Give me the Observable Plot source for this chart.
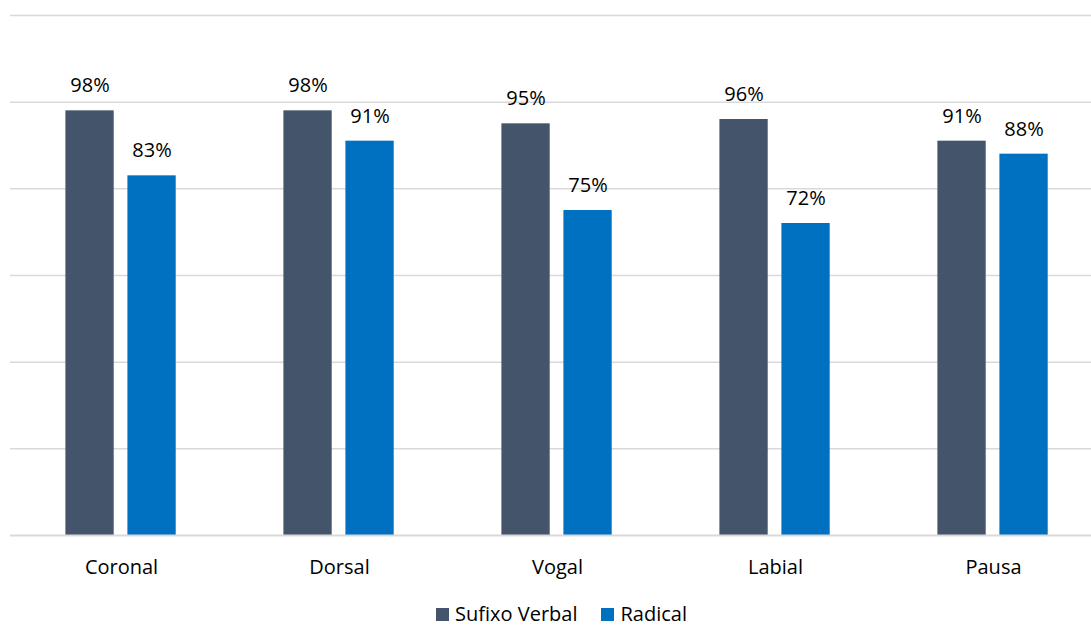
<!DOCTYPE html>
<html><head><meta charset="utf-8">
<script src="https://cdn.jsdelivr.net/npm/d3@7"></script>
<script src="https://cdn.jsdelivr.net/npm/@observablehq/plot@0.6"></script>
<style>
html,body{margin:0;background:#fff;font-family:"Open Sans",sans-serif;overflow:hidden;}
#legend{position:absolute;top:605px;left:0;width:1091px;height:18px;box-sizing:border-box;padding-left:32px;display:flex;justify-content:center;align-items:center;font-size:20px;line-height:18px;color:#000;}
#legend .item{display:flex;align-items:center;margin:0 12px;}
#legend .sw{width:13px;height:13px;margin-right:6px;}
</style></head>
<body>
<div id="chart"></div>
<div id="legend"></div>
<script>
const categories = ["Coronal","Dorsal","Vogal","Labial","Pausa"];
const seriesNames = ["Sufixo Verbal","Radical"];
const sufixoVerbal = [0.98,0.98,0.95,0.96,0.91];
const radical = [0.83,0.91,0.75,0.72,0.88];
const colors = ["#44546A","#0070C0"];
const gridTicks = [0.2,0.4,0.6,0.8,1.0,1.2];

const dataS = categories.map((c,i)=>({cat:c, v:sufixoVerbal[i]}));
const dataR = categories.map((c,i)=>({cat:c, v:radical[i]}));
const fmt = d => Math.round(d.v*100) + "%";

const plot = Plot.plot({
  width:1091, height:600,
  marginTop:15, marginBottom:65, marginLeft:10, marginRight:0,
  style:{fontFamily:'"Open Sans",sans-serif', fontSize:"20px", color:"#000"},
  x:{domain:categories, range:[10.6,1104], padding:0},
  y:{domain:[0,1.2], axis:null},
  marks:[
    Plot.ruleY(gridTicks, {stroke:"#D9D9D9", strokeWidth:1.5}),
    Plot.barY(dataS, {x:"cat", y:"v", fill:colors[0], insetLeft:53.4, insetRight:116.3}),
    Plot.barY(dataR, {x:"cat", y:"v", fill:colors[1], insetLeft:115.4, insetRight:54.3}),
    Plot.ruleY([0], {stroke:"#D9D9D9", strokeWidth:2}),
    Plot.text(dataS, {x:"cat", y:"v", text:fmt, dx:-31.5, dy:-25, lineAnchor:"middle", fontSize:20, fill:"#000"}),
    Plot.text(dataR, {x:"cat", y:"v", text:fmt, dx:30.5, dy:-25, lineAnchor:"middle", fontSize:20, fill:"#000"}),
    Plot.axisX({tickSize:0, tickPadding:24, fontSize:20, label:null, fill:"#000"})
  ]
});
document.getElementById("chart").appendChild(plot);

const lg = document.getElementById("legend");
seriesNames.forEach((n,i)=>{
  const it = document.createElement("div"); it.className="item";
  const sw = document.createElement("div"); sw.className="sw"; sw.style.background=colors[i];
  const t = document.createElement("span"); t.textContent=n;
  it.appendChild(sw); it.appendChild(t); lg.appendChild(it);
});
</script>
</body></html>
